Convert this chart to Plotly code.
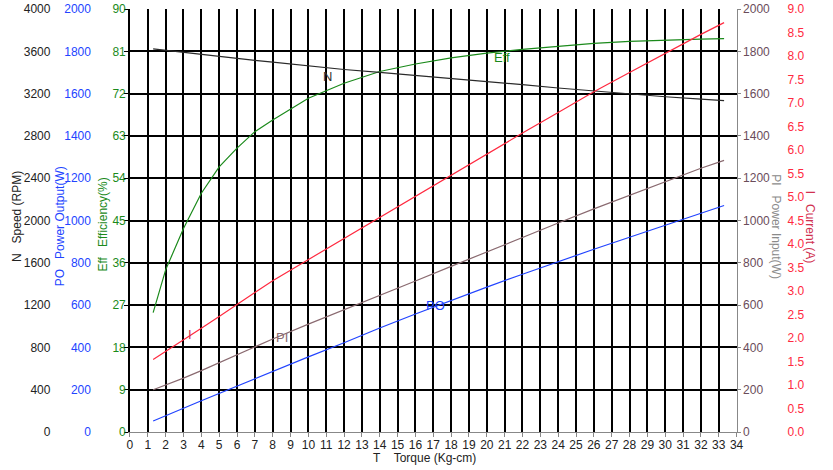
import plotly.graph_objects as go

torque = [1.3, 2, 3, 4, 5, 6, 7, 8, 10, 12, 14, 16, 18, 20, 22, 24, 26, 28, 30, 32, 33.3]
speed = [3622, 3608, 3590, 3572, 3553, 3535, 3515, 3497, 3460, 3428, 3400, 3373, 3345, 3315, 3285, 3253, 3223, 3195, 3170, 3148, 3133]
efficiency = [25.4, 34.5, 43.3, 50.8, 56.4, 60.4, 63.9, 66.4, 71.0, 74.2, 76.7, 78.3, 79.6, 80.6, 81.4, 82.1, 82.7, 83.1, 83.4, 83.6, 83.7]
power_out = [52, 78, 112, 148, 183, 218, 253, 287, 355, 422, 492, 558, 622, 685, 746, 806, 864, 921, 978, 1034, 1071]
power_in = [200, 222, 255, 290, 328, 366, 405, 440, 510, 577, 645, 714, 783, 852, 920, 988, 1055, 1120, 1185, 1247, 1284]
current = [1.54, 1.71, 1.96, 2.21, 2.46, 2.72, 2.97, 3.22, 3.67, 4.12, 4.57, 5.02, 5.46, 5.91, 6.36, 6.80, 7.24, 7.65, 8.06, 8.46, 8.71]

x_ticks = list(range(0, 35))
eff_ticks = list(range(0, 91, 9))
speed_ticks = list(range(0, 4001, 400))
pw_ticks = list(range(0, 2001, 200))
cur_ticks = [i * 0.5 for i in range(19)]

W, H = 833, 470
FONT = "Liberation Sans, Arial, sans-serif"
x0, x1 = 128.5, 742.5

C_N = "#2a2a2a"
C_EFF = "#1b8a1b"
C_PO = "#2244ff"
C_PI = "#8a6a70"
C_I = "#ff2a40"

fig = go.Figure()
fig.add_trace(go.Scatter(x=torque, y=speed, mode="lines", line=dict(color=C_N, width=1.2), yaxis="y2"))
fig.add_trace(go.Scatter(x=torque, y=power_out, mode="lines", line=dict(color=C_PO, width=1.2), yaxis="y3"))
fig.add_trace(go.Scatter(x=torque, y=efficiency, mode="lines", line=dict(color=C_EFF, width=1.2), yaxis="y"))
fig.add_trace(go.Scatter(x=torque, y=power_in, mode="lines", line=dict(color=C_PI, width=1.2), yaxis="y4"))
fig.add_trace(go.Scatter(x=torque, y=current, mode="lines", line=dict(color=C_I, width=1.2), yaxis="y5"))

tickfont = dict(family=FONT, size=12)

fig.update_layout(
    width=W, height=H,
    margin=dict(l=0, r=0, t=9, b=38),
    paper_bgcolor="white", plot_bgcolor="white",
    showlegend=False,
    font=dict(family=FONT, size=12, color="#222"),
    xaxis=dict(domain=[x0 / W, x1 / W], range=[0, 34], tickvals=x_ticks,
               showgrid=True, gridcolor="black", gridwidth=1.6,
               showline=True, linecolor="#888", linewidth=1.2,
               ticks="outside", ticklen=4, tickcolor="#888", ticklabelstandoff=-3,
               tickfont=dict(tickfont, color="#222"), zeroline=False),
    yaxis=dict(range=[0, 90], tickvals=eff_ticks,
               showgrid=True, gridcolor="black", gridwidth=1.6,
               showline=True, linecolor="black", linewidth=1.6,
               ticks="outside", ticklen=4, tickcolor="black", ticklabelstandoff=-4,
               tickfont=dict(tickfont, color=C_EFF), zeroline=False),
    yaxis2=dict(range=[0, 4000], tickvals=speed_ticks, overlaying="y", anchor="free",
                position=48 / W, side="left", showgrid=False, showline=False, ticks="",
                tickfont=dict(tickfont, color="#222"), zeroline=False),
    yaxis3=dict(range=[0, 2000], tickvals=pw_ticks, overlaying="y", anchor="free",
                position=89 / W, side="left", showgrid=False, showline=False, ticks="",
                tickfont=dict(tickfont, color=C_PO), zeroline=False),
    yaxis4=dict(range=[0, 2000], tickvals=pw_ticks, overlaying="y", anchor="x",
                side="right", showgrid=False, showline=True, linecolor="#888", linewidth=1.2,
                ticks="outside", ticklen=3, tickcolor="#888",
                tickfont=dict(tickfont, color="#6a4c5a"), zeroline=False),
    yaxis5=dict(range=[0, 9], tickvals=cur_ticks, tickformat=".1f", overlaying="y",
                anchor="free", position=793 / W, side="right", showgrid=False,
                showline=False, ticks="", tickfont=dict(tickfont, color=C_I), zeroline=False),
)

sp = "\u00a0\u00a0\u00a0"
titles = [
    ("N" + sp + "Speed (RPM)", 14, 0.51, -90, "#222"),
    ("PO" + sp + "Power Output(W)", 58, 0.487, -90, C_PO),
    ("Eff" + sp + "Efficiency(%)", 101, 0.49, -90, C_EFF),
    ("PI" + sp + "Power Input(W)", 783, 0.485, 90, "#8a8a8a"),
    ("I" + sp + "Current (A)", 817, 0.485, 90, "#d03050"),
]
for text, px, py, ang, col in titles:
    fig.add_annotation(text=text, x=px / W, y=py, xref="paper", yref="paper",
                       textangle=ang, showarrow=False, xanchor="center", yanchor="middle",
                       font=dict(family=FONT, size=12, color=col))

fig.add_annotation(text="T" + sp + "\u00a0Torque (Kg-cm)", x=427 / W, y=-0.061, xref="paper", yref="paper",
                   showarrow=False, xanchor="center", yanchor="middle",
                   font=dict(family=FONT, size=12, color="#222"))

labels = [
    ("N", 11.05, 3360, "y2", "#333"),
    ("Eff", 20.85, 79.6, "y", C_EFF),
    ("I", 3.35, 2.07, "y5", "#d03050"),
    ("PI", 8.5, 446, "y4", C_PI),
    ("PO", 17.14, 597, "y3", C_PO),
]
for text, lx, ly, yr, col in labels:
    fig.add_annotation(text=text, x=lx, y=ly, xref="x", yref=yr, showarrow=False,
                       xanchor="center", yanchor="middle",
                       font=dict(family=FONT, size=13, color=col))

fig.write_html("out.html", config={"displayModeBar": False},
               post_script="document.body.style.margin='0px';")
